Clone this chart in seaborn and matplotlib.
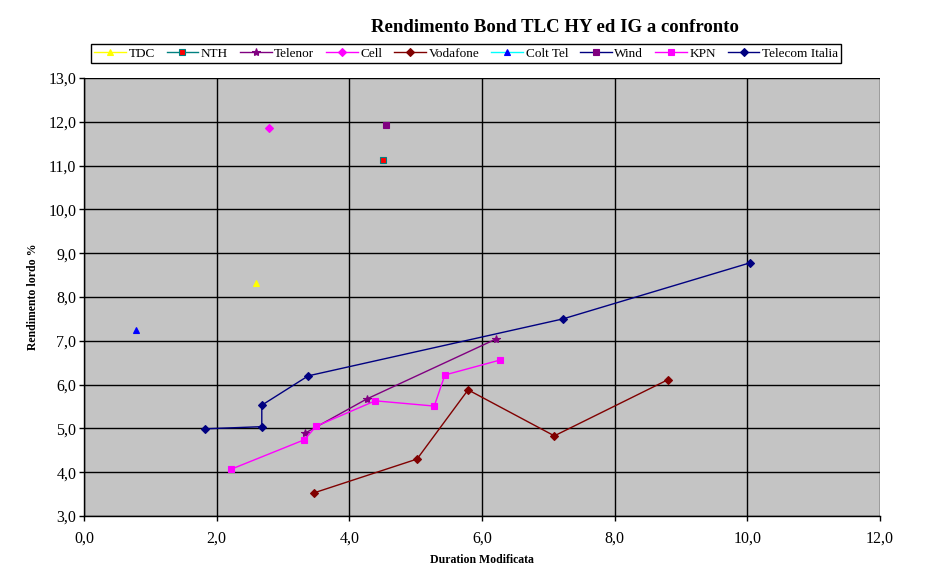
import matplotlib
matplotlib.use('Agg')
import matplotlib.pyplot as plt
import matplotlib.ticker as mticker
import seaborn as sns
import pandas as pd

# valori: duration modificata (x) e rendimento lordo % (y)
tdc_x = [2.60]
tdc_y = [8.33]
nth_x = [4.51]
nth_y = [11.13]
telenor_x = [3.33, 4.26, 6.21]
telenor_y = [4.89, 5.67, 7.04]
cell_x = [2.79]
cell_y = [11.86]
vodafone_x = [3.47, 5.02, 5.79, 7.09, 8.80]
vodafone_y = [3.53, 4.30, 5.88, 4.83, 6.11]
colt_x = [0.78]
colt_y = [7.25]
wind_x = [4.55]
wind_y = [11.93]
kpn_x = [2.22, 3.32, 3.50, 4.39, 5.28, 5.44, 6.27]
kpn_y = [4.07, 4.74, 5.05, 5.63, 5.51, 6.22, 6.56]
ti_x = [1.82, 2.68, 2.68, 3.38, 7.22, 10.04]
ti_y = [4.99, 5.04, 5.53, 6.20, 7.50, 8.78]

serie = [
    ('TDC', tdc_x, tdc_y, '#ffff00', '^', '#ffff00', '#ffff00'),
    ('NTH', nth_x, nth_y, '#008080', 's', '#ff0000', '#008080'),
    ('Telenor', telenor_x, telenor_y, '#800080', '*', '#800080', '#800080'),
    ('Cell', cell_x, cell_y, '#ff00ff', 'D', '#ff00ff', '#ff00ff'),
    ('Vodafone', vodafone_x, vodafone_y, '#800000', 'D', '#800000', '#800000'),
    ('Colt Tel', colt_x, colt_y, '#00ffff', '^', '#0000ff', '#0000ff'),
    ('Wind', wind_x, wind_y, '#000080', 's', '#800080', '#800080'),
    ('KPN', kpn_x, kpn_y, '#ff00ff', 's', '#ff00ff', '#ff00ff'),
    ('Telecom Italia', ti_x, ti_y, '#000080', 'D', '#000080', '#000080'),
]

plt.rcParams['font.family'] = ['Liberation Serif', 'DejaVu Serif']

fig = plt.figure(figsize=(9.42, 5.71), dpi=100)
ax = fig.add_axes([0.0892, 0.0963, 0.8450, 0.7671])
ax.set_facecolor('#c4c4c4')

for nome, xs, ys, col, mk, mfc, mec in serie:
    df = pd.DataFrame({'x': xs, 'y': ys})
    dim = {'D': 4, 's': 5, '^': 5, '*': 6}[mk]
    sns.lineplot(data=df, x='x', y='y', ax=ax, sort=False, estimator=None,
                 color=col, linewidth=1, marker=mk, markersize=dim,
                 markerfacecolor=mfc, markeredgecolor=mec, markeredgewidth=0.8,
                 label=nome)

ax.set_xlim(0, 12)
ax.set_ylim(3, 13)
ax.xaxis.set_major_locator(mticker.MultipleLocator(2))
ax.yaxis.set_major_locator(mticker.MultipleLocator(1))
fmt = mticker.FuncFormatter(lambda v, p: ('%.1f' % v).replace('.', ','))
ax.xaxis.set_major_formatter(fmt)
ax.yaxis.set_major_formatter(fmt)
ax.grid(True, color='black', linewidth=1)
ax.set_axisbelow(True)
for s in ['top', 'right']:
    ax.spines[s].set_visible(False)
for s in ['left', 'bottom']:
    ax.spines[s].set_color('black')
    ax.spines[s].set_linewidth(1)
ax.tick_params(direction='out', length=3.5, width=1, labelsize=11.5, colors='black')
ax.tick_params(axis='x', pad=7)
ax.tick_params(axis='y', pad=2)

ax.set_xlabel('Duration Modificata', fontsize=8.5, fontweight='bold', labelpad=5)
ax.set_ylabel('Rendimento lordo %', fontsize=8.5, fontweight='bold', labelpad=7)

fig.text(0.589, 0.951, 'Rendimento Bond TLC HY ed IG a confronto',
         ha='center', va='center', fontsize=13.5, fontweight='bold')

leg = ax.legend(loc='center', bbox_to_anchor=(0.480, 1.055), ncol=9, fontsize=9.5,
                frameon=True, fancybox=False, framealpha=1, edgecolor='black',
                handlelength=2.4, handletextpad=0.2, columnspacing=0.9,
                borderpad=0.25, borderaxespad=0)
leg.get_frame().set_linewidth(1)

fig.savefig('out.png', dpi=100, facecolor='white')
